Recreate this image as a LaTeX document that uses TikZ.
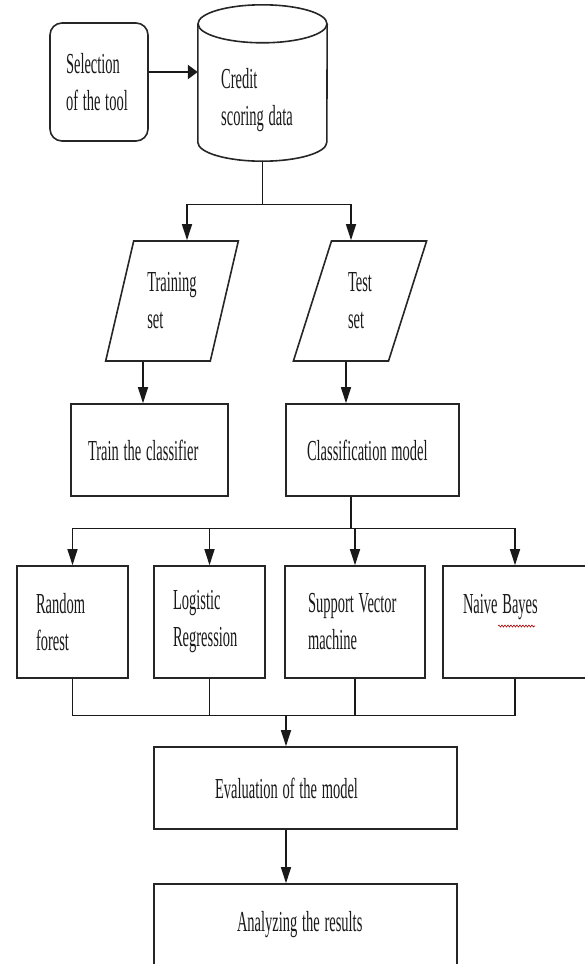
\documentclass[tikz,border=0pt]{standalone}
\usepackage{fontspec}
\setmainfont{Liberation Serif}[FakeStretch=0.5,WordSpace=1.3]
\usetikzlibrary{shapes.geometric,arrows.meta,decorations.pathmorphing}

\tikzset{
  tight/.style={execute at begin node={\spaceskip=0pt\xspaceskip=0pt\relax}},
  box/.style={draw=black!85, line width=1.6pt, rectangle, align=left, inner ysep=0pt, tight},
  para/.style={draw=black!85, line width=1.6pt, trapezium, trapezium left angle=72,
    trapezium right angle=108, trapezium stretches=true, minimum width=134pt,
    minimum height=120pt, align=left, tight},
  outline/.style={draw=black!85, line width=1.6pt},
  conn/.style={draw=black!90, line width=1.3pt},
  arr/.style={conn, -{Triangle[length=16pt,width=10pt]}},
}

\begin{document}
\begin{tikzpicture}[x=1pt,y=-1pt,font=\fontsize{29}{37}\selectfont,text=black!90]
\useasboundingbox (0,0) rectangle (585,964);

% tool and data
\node[box, rounded corners=12pt, minimum width=98pt, minimum height=118pt,
  text width=66pt, inner xsep=16pt] (sel) at (99,82) {Selection\\of the tool};
\node[minimum width=129pt, minimum height=156pt, inner sep=0pt] (data) at (262.5,83) {};
\draw[outline] ([yshift=-19pt]data.north) ellipse [x radius=64.5pt, y radius=19pt];
\draw[outline] ([yshift=-19pt]data.north west) -- ([yshift=19pt]data.south west)
  arc[start angle=180, end angle=360, x radius=64.5pt, y radius=19pt]
  -- ([yshift=-19pt]data.north east);
\node[align=left, tight] (datatxt) at (257,100) {Credit\\scoring data};

% train / test split
\node[para] (trainset) at (172,301) {Training\\set};
\node[para] (testset) at (360,301) {Test\\set};

\node[box, minimum width=157pt, minimum height=92pt, text width=123pt,
  inner xsep=17pt] (trainbox) at (149.5,450) {Train the classifier};
\node[box, minimum width=173pt, minimum height=92pt, text width=131pt,
  inner xsep=21pt] (cls) at (372.5,450) {Classification model};

% the four models
\node[box, minimum width=111pt, minimum height=112pt, text width=73pt,
  inner xsep=19pt] (rf) at (72.5,622) {Random\\forest};
\node[box, minimum width=111pt, minimum height=112pt, text width=73pt,
  inner xsep=19pt] (lr) at (209.5,622) {Logistic\\Regression};
\node[box, minimum width=140pt, minimum height=112pt, text width=94pt,
  inner xsep=23pt] (svm) at (355,622) {Support Vector\\machine};
\node[box, minimum width=144pt, minimum height=112pt, text width=104pt,
  inner xsep=20pt] (nb) at (515,622) {Naive Bayes\\\mbox{}};
\draw[red!65!black, line width=0.6pt, decorate,
  decoration={snake, amplitude=1pt, segment length=3pt}] (498,626) -- (535,626);

% evaluation
\node[box, minimum width=303pt, minimum height=82pt, text width=181pt,
  inner xsep=61pt] (eval) at (305.5,788) {Evaluation of the model};
\node[box, minimum width=303pt, minimum height=82pt, text width=137pt,
  inner xsep=83pt] (result) at (305.5,925) {Analyzing the results};

% connectors
\draw[conn, line width=2.2pt, -{Triangle[length=10pt,width=14pt]}]
  ([yshift=10pt]sel.east) -- ([yshift=10pt]sel.east -| data.west);
\draw[conn] (data.south) -- ++(0,43) coordinate (split);
\draw[arr] (split) -| ([xshift=15pt]trainset.north);
\draw[arr] (split) -| ([xshift=-9pt]testset.north);
\draw[arr] ([xshift=-29pt]trainset.south) -- ([xshift=-29pt]trainset.south |- trainbox.north);
\draw[arr] ([xshift=-14pt]testset.south) -- ([xshift=-14pt]testset.south |- cls.north);

\draw[conn] ([xshift=-21.5pt]cls.south) -- ++(0,32) coordinate (fork);
\foreach \n in {rf,lr,svm,nb}
  \draw[arr] (fork) -| (\n.north);

\coordinate (join) at ([xshift=-19.5pt,yshift=31pt]eval.north);
\foreach \n in {rf,lr,svm,nb}
  \draw[conn] (\n.south) |- (join);
\draw[arr] (join) -- (join |- eval.north);
\draw[arr] ([xshift=-19.5pt]eval.south) -- ([xshift=-19.5pt]eval.south |- result.north);
\end{tikzpicture}
\end{document}
